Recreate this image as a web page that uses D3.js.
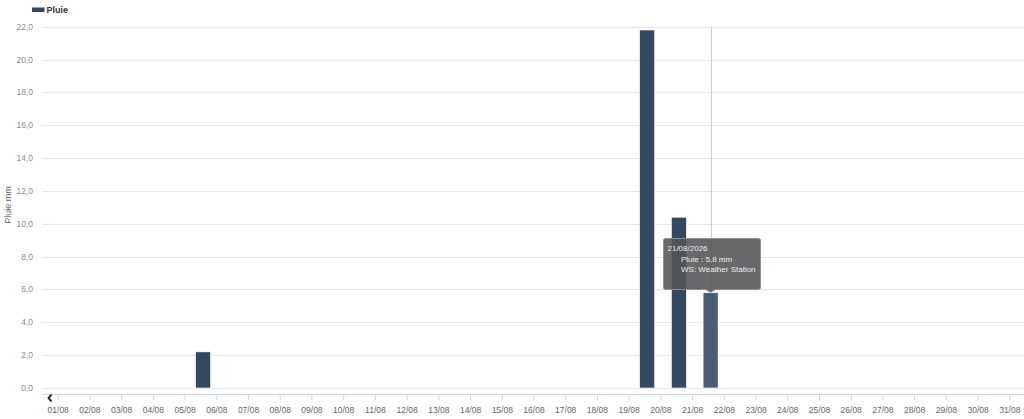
<!DOCTYPE html>
<html>
<head>
<meta charset="utf-8">
<script src="https://cdn.jsdelivr.net/npm/d3@7"></script>
<style>
  html, body { margin: 0; padding: 0; background: #fff; }
  svg { display: block; font-family: "Liberation Sans", Arial, sans-serif; }
</style>
</head>
<body>
<svg id="chart" width="1024" height="419"></svg>
<script>
'use strict';

// rainfall per day, August 2026
const days = ['2026-08-05', '2026-08-19', '2026-08-20', '2026-08-21'];
const rain = [2.2, 21.8, 10.4, 5.8];
const yTicks = [0, 2, 4, 6, 8, 10, 12, 14, 16, 18, 20, 22];
const seriesName = 'Pluie';
const unit = 'mm';
const stationName = 'WS: Weather Station';
const hoverIndex = 3;

const chartWidth = 1024;
const plotLeft = 42;
const plotTop = 26.7;
const plotBottom = 388;
const axisY = 394;
const barWidth = 15;
const barColor = '#34495e';
const hoverColor = '#4b5d73';

const parse = d3.timeParse('%Y-%m-%d');
const data = days.map(function(d, i) {
  return {day: parse(d), value: rain[i]};
});

const svg = d3.select('#chart');

let x = d3
  .scaleTime()
  .domain([parse('2026-08-01'), parse('2026-08-31')])
  .range([57.7, 1009.3]);

let y = d3
  .scaleLinear()
  .domain([0, 22])
  .range([plotBottom, plotTop]);

// bars sit a bit past midday, like the source
function barCenter(d) {
  return x(d3.timeHour.offset(d.day, 14.3));
}

let fmt = function(v) {
  return d3.format('.1f')(v).replace('.', ',');
};

// grid
svg
  .append('g')
  .selectAll('line')
  .data(yTicks)
  .join('line')
  .attr('x1', plotLeft)
  .attr('x2', chartWidth)
  .attr('y1', d => Math.round(y(d)) + 0.5)
  .attr('y2', d => Math.round(y(d)) + 0.5)
  .attr('stroke', '#e6e6e6')
  .attr('stroke-width', 1);

// y labels
svg
  .append('g')
  .selectAll('text')
  .data(yTicks)
  .join('text')
  .attr('x', 33)
  .attr('y', d => y(d) + 3)
  .attr('text-anchor', 'end')
  .attr('font-size', '8.5px')
  .attr('fill', '#8c8c8c')
  .text(fmt);

svg
  .append('text')
  .attr('transform', 'translate(11,205) rotate(-90)')
  .attr('text-anchor', 'middle')
  .attr('font-size', '9px')
  .attr('fill', '#666')
  .text(seriesName + ' ' + unit);

// x axis
let xAxis = d3
  .axisBottom(x)
  .ticks(d3.timeDay.every(1))
  .tickFormat(d3.timeFormat('%d/%m'))
  .tickSize(6)
  .tickPadding(7);

let gx = svg
  .append('g')
  .attr('transform', 'translate(0,' + axisY + ')')
  .call(xAxis);

gx.select('.domain').remove();
gx.selectAll('.tick line').attr('stroke', '#ccd6eb');
gx.selectAll('.tick text')
  .attr('fill', '#666')
  .attr('font-size', '8.5px')
  .attr('font-family', '"Liberation Sans", Arial, sans-serif');

svg
  .append('line')
  .attr('x1', plotLeft)
  .attr('x2', chartWidth)
  .attr('y1', axisY + 0.5)
  .attr('y2', axisY + 0.5)
  .attr('stroke', '#ccd6eb');

// scroll arrow
svg
  .append('path')
  .attr('d', 'M51.5,394.5 L48.5,398 L51.5,401.5')
  .attr('fill', 'none')
  .attr('stroke', '#333')
  .attr('stroke-width', 2);

// crosshair
let hovered = data[hoverIndex];
svg
  .append('line')
  .attr('x1', Math.round(barCenter(hovered)) + 0.5)
  .attr('x2', Math.round(barCenter(hovered)) + 0.5)
  .attr('y1', plotTop)
  .attr('y2', plotBottom)
  .attr('stroke', '#cccccc')
  .attr('stroke-width', 1);

// bars
svg
  .append('g')
  .selectAll('rect')
  .data(data)
  .join('rect')
  .attr('x', d => barCenter(d) - barWidth / 2)
  .attr('y', d => y(d.value))
  .attr('width', barWidth)
  .attr('height', d => plotBottom - y(d.value))
  .attr('fill', (d, i) => (i === hoverIndex ? hoverColor : barColor))
  .attr('stroke', '#fff')
  .attr('stroke-width', 0.6);

// legend
svg
  .append('rect')
  .attr('x', 32)
  .attr('y', 7.5)
  .attr('width', 12.5)
  .attr('height', 4.5)
  .attr('fill', barColor);

svg
  .append('text')
  .attr('x', 46.5)
  .attr('y', 12.8)
  .attr('font-size', '9px')
  .attr('font-weight', 'bold')
  .attr('fill', '#333')
  .text(seriesName);

// tooltip
let tx = barCenter(hovered);
let tipLeft = 663.5;
let tipRight = 760.5;
let tipTop = 238.5;
let tipBottom = 289.5;

let tip = svg.append('g');

tip
  .append('path')
  .attr('d',
    'M' + (tipLeft + 2) + ',' + tipTop +
    ' L' + (tipRight - 2) + ',' + tipTop +
    ' Q' + tipRight + ',' + tipTop + ' ' + tipRight + ',' + (tipTop + 2) +
    ' L' + tipRight + ',' + (tipBottom - 2) +
    ' Q' + tipRight + ',' + tipBottom + ' ' + (tipRight - 2) + ',' + tipBottom +
    ' L' + (tx + 5) + ',' + tipBottom +
    ' L' + tx + ',' + (y(hovered.value) - 0.5) +
    ' L' + (tx - 5) + ',' + tipBottom +
    ' L' + (tipLeft + 2) + ',' + tipBottom +
    ' Q' + tipLeft + ',' + tipBottom + ' ' + tipLeft + ',' + (tipBottom - 2) +
    ' L' + tipLeft + ',' + (tipTop + 2) +
    ' Q' + tipLeft + ',' + tipTop + ' ' + (tipLeft + 2) + ',' + tipTop + ' Z')
  .attr('fill', 'rgba(82,84,86,0.88)')
  .attr('stroke', '#8f8f8f')
  .attr('stroke-width', 1);

let tipLines = [
  {x: 667.5, y: 251, text: d3.timeFormat('%d/%m/%Y')(hovered.day)},
  {x: 681, y: 261.5, text: seriesName + ' : ' + fmt(hovered.value) + ' ' + unit},
  {x: 681, y: 271.5, text: stationName}
];

tip
  .selectAll('text')
  .data(tipLines)
  .join('text')
  .attr('x', d => d.x)
  .attr('y', d => d.y)
  .attr('font-size', '8px')
  .attr('fill', '#eeeeee')
  .text(d => d.text);
</script>
</body>
</html>
